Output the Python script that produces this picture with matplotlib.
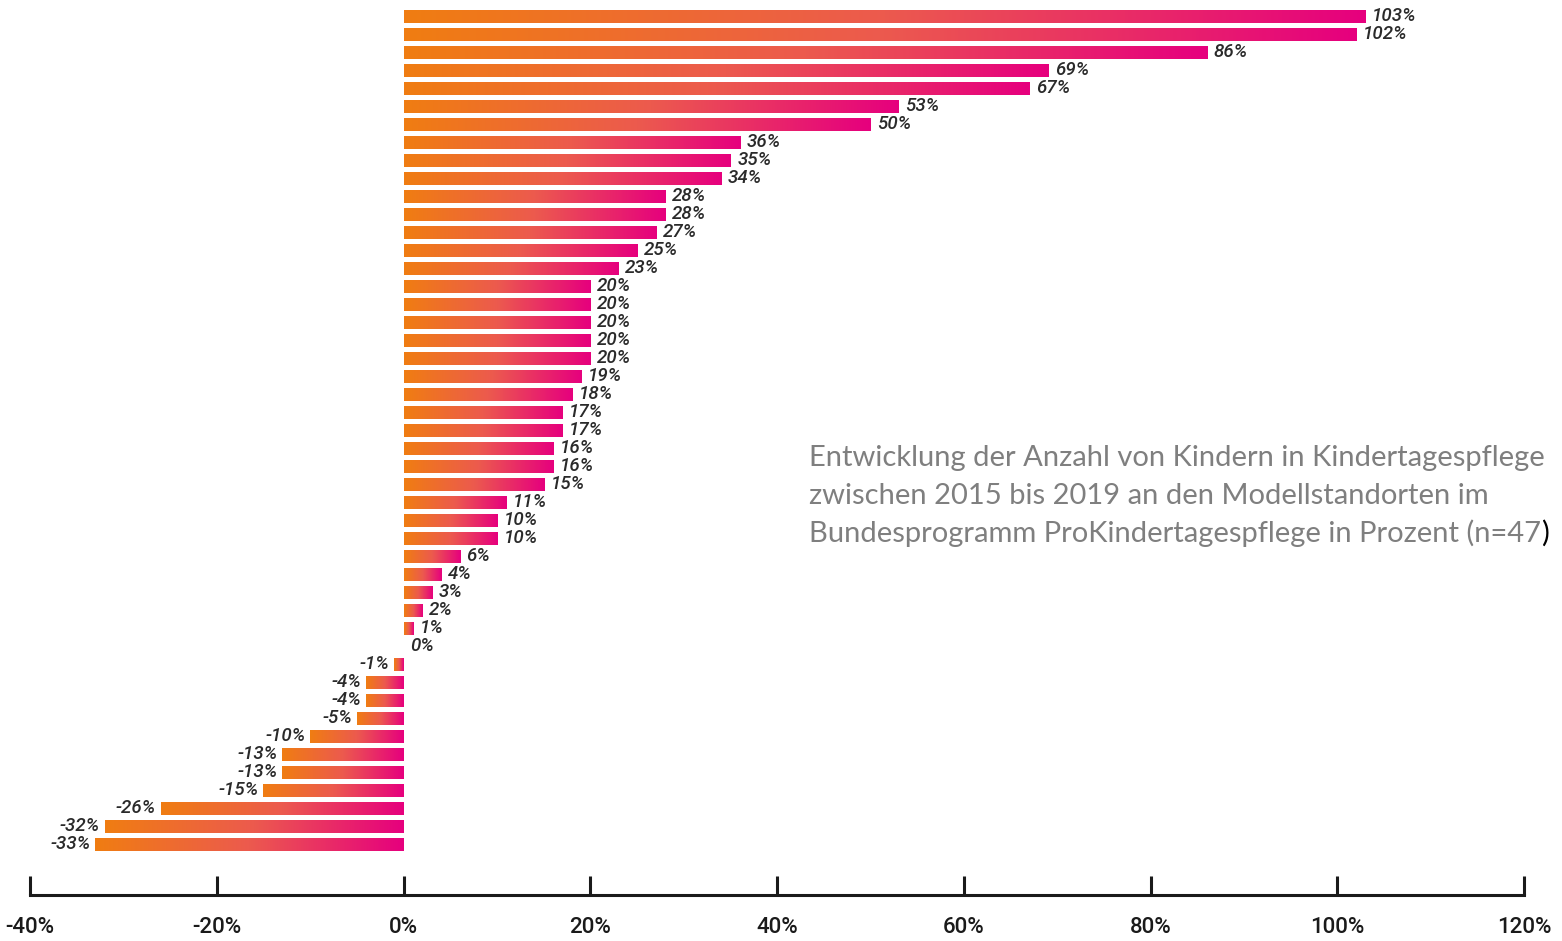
import numpy as np
import matplotlib
matplotlib.use("Agg")
import matplotlib.pyplot as plt
from matplotlib.colors import LinearSegmentedColormap

values = [103, 102, 86, 69, 67, 53, 50, 36, 35, 34, 28, 28, 27, 25, 23,
          20, 20, 20, 20, 20, 19, 18, 17, 17, 16, 16, 15, 11, 10, 10,
          6, 4, 3, 2, 1, 0, -1, -4, -4, -5, -10, -13, -13, -15, -26, -32, -33]
xticks = [-40, -20, 0, 20, 40, 60, 80, 100, 120]
xtick_labels = [f"{t}%" for t in xticks]
title_lines = ["Entwicklung der Anzahl von Kindern in Kindertagespflege",
               "zwischen 2015 bis 2019 an den Modellstandorten im",
               "Bundesprogramm ProKindertagespflege in Prozent (n=47"]

W, H = 1562, 941
fig = plt.figure(figsize=(W / 100, H / 100), dpi=100)
ax = fig.add_axes([30 / W, 1 - 895 / H, (1524 - 30) / W, 895 / H])

cmap = LinearSegmentedColormap.from_list("om", ["#F07D12", "#EC5A4E", "#E6007E"])
grad = np.linspace(0, 1, 256).reshape(1, -1)

n = len(values)
bh = 0.72
label_font = ["Roboto", "DejaVu Sans"]
for i, v in enumerate(values):
    y = -i
    x0, x1 = min(0, v), max(0, v)
    if x1 > x0:
        ax.imshow(grad, extent=[x0, x1, y - bh / 2, y + bh / 2], cmap=cmap,
                  aspect="auto", interpolation="bilinear", zorder=2)
    kw = dict(va="center", fontsize=13.5, style="italic", weight="medium",
              color="#2a2a2a", family=label_font, zorder=3)
    if v >= 0:
        ax.text(v + 0.75, y + 0.05, f"{v}%", ha="left", **kw)
    else:
        ax.text(v - 0.5, y + 0.05, f"{v}%", ha="right", **kw)

ax.set_xlim(-40, 120)
ax.set_ylim(-(895 - 17) / 18, 17 / 18)
ax.set_yticks([])
ax.set_xticks(xticks)
ax.set_xticklabels(xtick_labels, family=label_font, fontsize=16, weight="medium",
                   color="#1a1a1a")
for s in ["top", "left", "right"]:
    ax.spines[s].set_visible(False)
ax.spines["bottom"].set_linewidth(2.2)
ax.spines["bottom"].set_color("#1a1a1a")
ax.spines["bottom"].set_capstyle("projecting")
ax.tick_params(axis="x", direction="in", length=14, width=2.2, color="#1a1a1a", pad=16)
ax.patch.set_alpha(0)

tx = 809 / W
tf = ["Lato", "DejaVu Sans"]
fs = 21
baselines = [466, 504, 542]
last = None
for line, b in zip(title_lines, baselines):
    last = fig.text(tx, 1 - b / H, line, ha="left", va="baseline", fontsize=fs,
                    color="#7f7f7f", family=tf)
ax.annotate(")", xy=(1, 0), xycoords=last, va="bottom", ha="left",
            fontsize=fs, color="#000000", family=tf, annotation_clip=False)

fig.savefig("out.png", dpi=100)
